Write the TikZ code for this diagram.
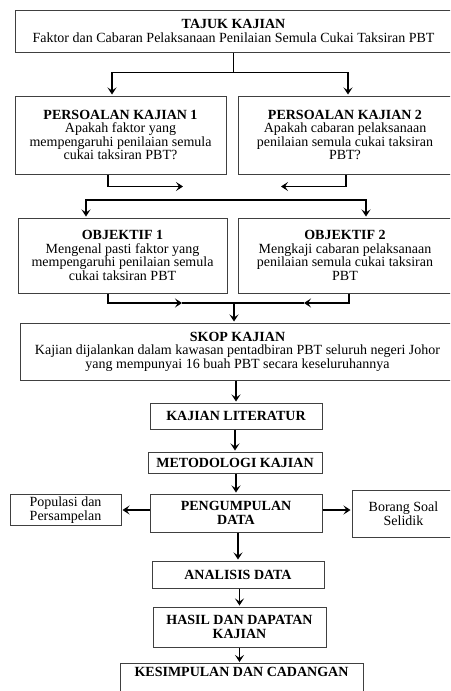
\documentclass[tikz,border=0pt]{standalone}
\usepackage{fontspec}
\setmainfont{Liberation Serif}
\usetikzlibrary{arrows.meta,calc}
\tikzset{
  box/.style={draw=black!75, line width=1pt, align=center, inner sep=2pt,
    font=\fontsize{14}{13.5}\selectfont},
  ln/.style={line width=1.9pt},
  arr/.style={ln, shorten >=1pt, -{Stealth[length=7pt,width=9pt,inset=3pt]}},
  dbl/.style={ln, shorten >=1pt, shorten <=1pt,
    {Stealth[length=7pt,width=9pt,inset=3pt]}-{Stealth[length=7pt,width=9pt,inset=3pt]}}
}

\begin{document}
\begin{tikzpicture}[x=1pt,y=-1pt]
  \useasboundingbox (0,0) rectangle (450,691);
  \clip (0,0) rectangle (450,691);

  % boxes
  \node[box, minimum width=437, minimum height=42] (tajuk) at (233.5,31)
    {\textbf{TAJUK KAJIAN}\\ Faktor dan Cabaran Pelaksanaan Penilaian Semula Cukai Taksiran PBT};
  \node[box, minimum width=211, minimum height=78] (pk1) at (120.5,135)
    {\textbf{PERSOALAN KAJIAN 1}\\ Apakah faktor yang\\ mempengaruhi penilaian semula\\ cukai taksiran PBT?};
  \node[box, minimum width=214, minimum height=78] (pk2) at (345,135)
    {\textbf{PERSOALAN KAJIAN 2}\\ Apakah cabaran pelaksanaan\\ penilaian semula cukai taksiran\\ PBT?};
  \node[box, minimum width=209, minimum height=75] (o1) at (122.5,255.5)
    {\textbf{OBJEKTIF 1}\\ Mengenal pasti faktor yang\\ mempengaruhi penilaian semula\\ cukai taksiran PBT};
  \node[box, minimum width=214, minimum height=75] (o2) at (345,255.5)
    {\textbf{OBJEKTIF 2}\\ Mengkaji cabaran pelaksanaan\\ penilaian semula cukai taksiran\\ PBT};
  \node[box, minimum width=435, minimum height=57] (skop) at (237.5,351.5)
    {\textbf{SKOP KAJIAN}\\ Kajian dijalankan dalam kawasan pentadbiran PBT seluruh negeri Johor\\ yang mempunyai 16 buah PBT secara keseluruhannya};
  \node[box, minimum width=172, minimum height=26] (kl) at (236,416) {\textbf{KAJIAN LITERATUR}};
  \node[box, minimum width=174, minimum height=21] (mk) at (235,462.5) {\textbf{METODOLOGI KAJIAN}};
  \node[box, minimum width=172, minimum height=38] (pd) at (236,513) {\textbf{PENGUMPULAN}\\ \textbf{DATA}};
  \node[box, minimum width=111, minimum height=30] (pop) at (65.5,510) {Populasi dan\\ Persampelan};
  \node[box, minimum width=103, minimum height=47] (borang) at (403.5,513.5) {Borang Soal\\ Selidik};
  \node[box, minimum width=172, minimum height=27] (ad) at (238,574.5) {\textbf{ANALISIS DATA}};
  \node[box, minimum width=173, minimum height=40] (hd) at (239.5,627) {\textbf{HASIL DAN DAPATAN}\\ \textbf{KAJIAN}};
  \node[box, minimum width=243, anchor=north, inner ysep=4pt, text depth=40pt] (kc) at (241.5,663)
    {\textbf{KESIMPULAN DAN CADANGAN}};

  % title to questions
  \draw[ln] (tajuk.south) -- ++(0,20) coordinate (j1);
  \draw[arr] (j1) -| ([xshift=-8.5pt]pk1.north);
  \draw[arr] (j1) -| ([xshift=3pt]pk2.north);

  % questions
  \draw[arr] ([xshift=-12.5pt]pk1.south) |- ++(76,12);
  \draw[arr] ([xshift=1pt]pk2.south) |- ++(-66,12);

  % to objectives
  \coordinate (j2l) at (86,200);
  \coordinate (j2r) at (366,200);
  \draw[dbl] (j2l |- o1.north) -- (j2l) -- (j2r) -- (j2r |- o2.north);

  % objectives to scope
  \coordinate (j3) at (234,303);
  \draw[arr] ([xshift=-14.5pt]o1.south) |- ([xshift=-51pt]j3);
  \draw[ln] ([xshift=-52pt]j3) -- (j3);
  \draw[arr] ([xshift=4pt]o2.south) |- ([xshift=69pt]j3);
  \draw[ln] ([xshift=70pt]j3) -- (j3);
  \draw[arr] (j3) -- (j3 |- skop.north);

  % main chain
  \draw[arr] (kl.north |- skop.south) -- (kl.north);
  \draw[arr] (mk.north |- kl.south) -- (mk.north);
  \draw[arr] (pd.north |- mk.south) -- (pd.north);
  \draw[arr] (pd.west |- pop.east) -- (pop.east);
  \draw[arr] (pd.east |- pop.east) -- (borang.west |- pop.east);
  \draw[arr] (ad.north |- pd.south) -- (ad.north);
  \draw[arr] (hd.north |- ad.south) -- (hd.north);
  \draw[arr] (hd.south) -- (hd.south |- kc.north);
\end{tikzpicture}
\end{document}
